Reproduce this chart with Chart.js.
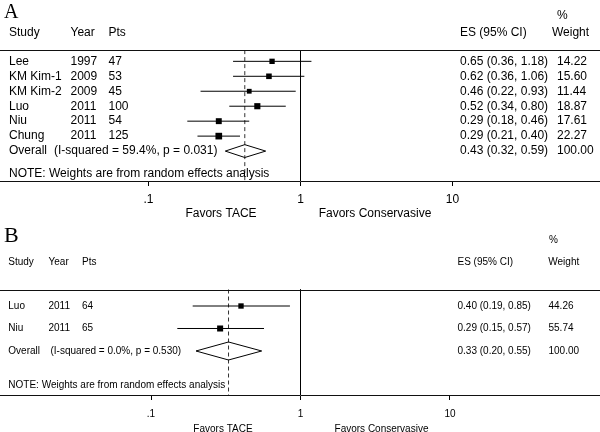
<!DOCTYPE html>
<html>
<head>
<meta charset="utf-8">
<script src="https://cdn.jsdelivr.net/npm/chart.js@4.4.1/dist/chart.umd.min.js"></script>
<style>
  html, body { margin: 0; padding: 0; background: #fff; }
  canvas { display: block; }
</style>
</head>
<body>
<canvas id="chartA" width="600" height="226"></canvas>
<canvas id="chartB" width="600" height="206"></canvas>
<script>
/* globals Chart:false */
// Panel A data
const studiesA = ["Lee", "KM Kim-1", "KM Kim-2", "Luo", "Niu", "Chung"];
const yearsA = ["1997", "2009", "2009", "2011", "2011", "2011"];
const ptsA = ["47", "53", "45", "100", "54", "125"];
const esA = [0.65, 0.62, 0.46, 0.52, 0.29, 0.29];
const lowA = [0.36, 0.36, 0.22, 0.34, 0.18, 0.21];
const highA = [1.18, 1.06, 0.93, 0.80, 0.46, 0.40];
const weightA = [14.22, 15.60, 11.44, 18.87, 17.61, 22.27];
const overallA = [0.43, 0.32, 0.59];
const hetA = "(I-squared = 59.4%, p = 0.031)";

// Panel B data
const studiesB = ["Luo", "Niu"];
const yearsB = ["2011", "2011"];
const ptsB = ["64", "65"];
const esB = [0.40, 0.29];
const lowB = [0.19, 0.15];
const highB = [0.85, 0.57];
const weightB = [44.26, 55.74];
const overallB = [0.33, 0.20, 0.55];
const hetB = "(I-squared = 0.0%, p = 0.530)";

const tickValues = [0.1, 1, 10];
const tickLabels = [".1", "1", "10"];
const favorLabels = ["Favors TACE", "Favors Conservasive"];
const noteText = "NOTE: Weights are from random effects analysis";

const SANS = '"Liberation Sans", Arial, sans-serif';
const SERIF = '"Liberation Serif", "Times New Roman", serif';

const fmt = (v) => v.toFixed(2);

function buildPanel(canvasId, letter, d, look) {
  const n = d.es.length;
  const [oEs, oLo, oHi] = d.overall;

  const ciSets = d.es.map((_, i) => ({
    data: [{ x: d.low[i], y: i }, { x: d.high[i], y: i }],
    showLine: true,
    borderColor: "#000",
    borderWidth: 1,
    pointRadius: 0,
  }));

  const boxSet = {
    data: d.es.map((v, i) => ({ x: v, y: i })),
    showLine: false,
    pointStyle: "rect",
    pointRadius: d.weight.map((w) => look.boxScale * Math.sqrt(w)),
    backgroundColor: "#000",
    borderColor: "#000",
    pointBorderWidth: 0,
  };

  const diamondSet = {
    data: [
      { x: oLo, y: n },
      { x: oEs, y: n - look.dh },
      { x: oHi, y: n },
      { x: oEs, y: n + look.dh },
      { x: oLo, y: n },
    ],
    showLine: true,
    fill: false,
    borderColor: "#000",
    borderWidth: 1,
    pointRadius: 0,
  };

  const dashedSet = {
    data: [{ x: oEs, y: look.ruleY }, { x: oEs, y: look.yMax }],
    showLine: true,
    borderColor: "#333",
    borderWidth: 1,
    borderDash: [4, 3],
    pointRadius: 0,
  };

  const nullSet = {
    data: [{ x: 1, y: look.ruleY }, { x: 1, y: look.yMax }],
    showLine: true,
    borderColor: "#000",
    borderWidth: 1,
    pointRadius: 0,
  };

  const textPlugin = {
    id: "forestText" + letter,
    afterDraw(chart) {
      const { ctx, chartArea } = chart;
      const y = chart.scales.y;
      const py = (v) => y.getPixelForValue(v);
      ctx.save();
      ctx.fillStyle = "#000";
      ctx.textBaseline = "middle";
      ctx.textAlign = "left";

      ctx.font = look.titleSize + "px " + SERIF;
      ctx.fillText(letter, 4, py(look.titleY));

      ctx.font = look.font + "px " + SANS;
      ctx.fillText("%", look.pctX, py(look.pctY));
      const hy = py(look.headerY);
      ctx.fillText("Study", look.cols[0], hy);
      ctx.fillText("Year", look.cols[1], hy);
      ctx.fillText("Pts", look.cols[2], hy);
      ctx.fillText("ES (95% CI)", look.esX, hy);
      ctx.fillText("Weight", look.weightHdrX, hy);

      d.studies.forEach((s, i) => {
        const ry = py(i);
        ctx.fillText(s, look.cols[0], ry);
        ctx.fillText(d.years[i], look.cols[1], ry);
        ctx.fillText(d.pts[i], look.cols[2], ry);
        ctx.fillText(fmt(d.es[i]) + " (" + fmt(d.low[i]) + ", " + fmt(d.high[i]) + ")", look.esX, ry);
        ctx.fillText(fmt(d.weight[i]), look.wX, ry);
      });

      const oy = py(n);
      ctx.fillText("Overall", look.cols[0], oy);
      ctx.fillText(d.het, look.hetX, oy);
      ctx.fillText(fmt(oEs) + " (" + fmt(oLo) + ", " + fmt(oHi) + ")", look.esX, oy);
      ctx.fillText("100.00", look.wX, oy);

      ctx.fillText(noteText, look.cols[0], py(look.noteY));

      ctx.textAlign = "center";
      favorLabels.forEach((t, i) => {
        ctx.fillText(t, look.favorX[i], chartArea.bottom + look.favorDy);
      });

      // header rule
      const ry = Math.round(py(look.ruleY)) + 0.5;
      ctx.strokeStyle = "#111";
      ctx.lineWidth = 1;
      ctx.beginPath();
      ctx.moveTo(chartArea.left, ry);
      ctx.lineTo(chartArea.right, ry);
      ctx.stroke();
      ctx.restore();
    },
  };

  return new Chart(document.getElementById(canvasId), {
    type: "scatter",
    data: { datasets: [...ciSets, diamondSet, dashedSet, nullSet, boxSet] },
    options: {
      responsive: false,
      animation: false,
      events: [],
      layout: { padding: 0, autoPadding: false },
      plugins: { legend: { display: false }, tooltip: { enabled: false } },
      scales: {
        x: {
          type: "logarithmic",
          min: look.xMin,
          max: look.xMax,
          afterBuildTicks: (s) => {
            s.ticks = tickValues.map((v) => ({ value: v }));
          },
          afterFit: (s) => {
            s.height = look.axisHeight;
          },
          ticks: {
            callback: (v, i) => tickLabels[i],
            color: "#000",
            font: { family: SANS, size: look.font },
            padding: look.tickPad,
            maxRotation: 0,
            autoSkip: false,
          },
          grid: { drawOnChartArea: false, drawTicks: true, tickLength: 5, color: "#000" },
          border: { display: true, color: "#111", width: 1 },
        },
        y: {
          type: "linear",
          display: false,
          reverse: true,
          min: look.yMin,
          max: look.yMax,
        },
      },
    },
    plugins: [textPlugin],
  });
}

// log axis limits: 1 sits at x = 300.5, one decade = 152 px (A) / 149.5 px (B)
buildPanel("chartA", "A", {
  studies: studiesA, years: yearsA, pts: ptsA,
  es: esA, low: lowA, high: highA, weight: weightA,
  overall: overallA, het: hetA,
}, {
  font: 12, titleSize: 20,
  xMin: Math.pow(10, -300.5 / 152), xMax: Math.pow(10, 299.5 / 152), yMin: -4.1, yMax: 8,
  axisHeight: 45, tickPad: 6, boxScale: 1, dh: 0.43,
  cols: [9, 70.5, 108.5], hetX: 54, esX: 460, wX: 557, weightHdrX: 552, pctX: 557,
  titleY: -3.23, pctY: -3.03, headerY: -1.93, ruleY: -0.75, noteY: 7.5,
  favorX: [221, 375], favorDy: 32.5,
});

buildPanel("chartB", "B", {
  studies: studiesB, years: yearsB, pts: ptsB,
  es: esB, low: lowB, high: highB, weight: weightB,
  overall: overallB, het: hetB,
}, {
  font: 10, titleSize: 22,
  xMin: Math.pow(10, -300.5 / 149.5), xMax: Math.pow(10, 299.5 / 149.5), yMin: -3.556, yMax: 3.956,
  axisHeight: 37, tickPad: 8, boxScale: 0.57, dh: 0.4,
  cols: [8.3, 48.5, 82], hetX: 50.5, esX: 457.5, wX: 548.5, weightHdrX: 548.3, pctX: 549,
  titleY: -3.11, pctY: -2.91, headerY: -1.95, ruleY: -0.733, noteY: 3.51,
  favorX: [223, 381.5], favorDy: 34,
});
</script>
</body>
</html>
